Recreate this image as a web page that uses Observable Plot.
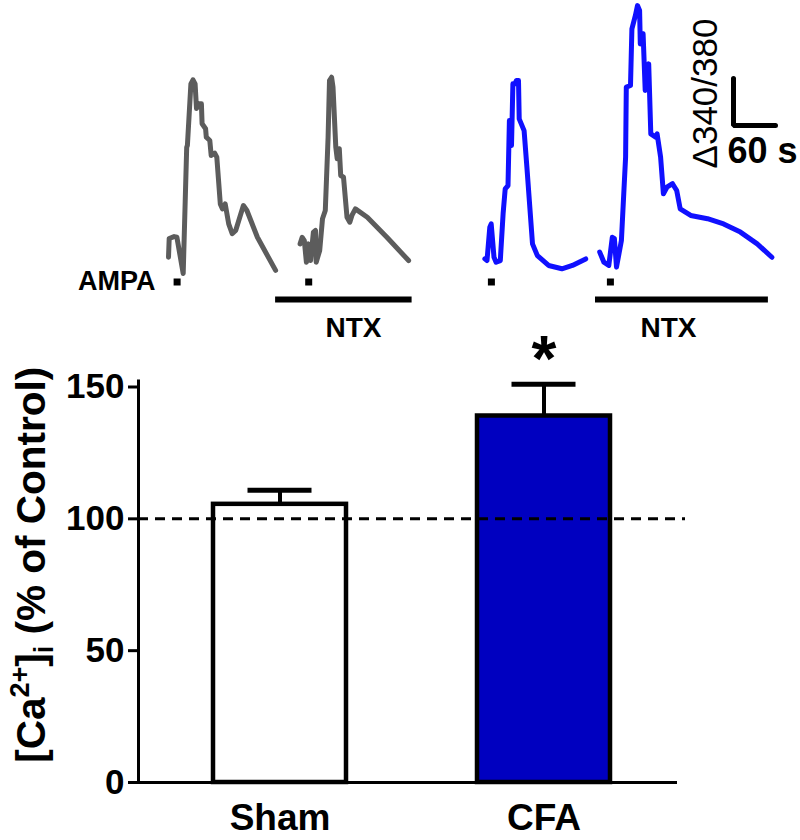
<!DOCTYPE html>
<html>
<head>
<meta charset="utf-8">
<script src="https://cdn.jsdelivr.net/npm/d3@7"></script>
<script src="https://cdn.jsdelivr.net/npm/@observablehq/plot@0.6"></script>
<style>
  html, body { margin: 0; padding: 0; background: #fff; }
  #wrap { position: relative; width: 800px; height: 840px; }
  #traces, #bars { position: absolute; left: 0; }
  #traces { top: 0; }
  #bars { top: 325px; }
  svg { display: block; overflow: visible; }
</style>
</head>
<body>
<div id="wrap">
<div id="bars"></div>
<div id="traces"></div>
</div>
<script>
// ---------------- DATA ----------------
// Calcium traces: [time (s), Δ340/380 ratio] (common timeline)
const shamControl = [[240,0.184],[241,0.264],[248,0.272],[252,0.269],[261,0.115],[266,0.652],[267,0.660],[272,0.922],[275,0.939],[278,0.922],[280,0.817],[283,0.837],[287,0.837],[288,0.752],[293,0.731],[294,0.695],[299,0.681],[301,0.617],[306,0.627],[309,0.610],[314,0.411],[317,0.390],[321,0.411],[326,0.326],[331,0.284],[336,0.298],[347,0.404],[352,0.383],[367,0.269],[393,0.128]];
const shamNTX = [[428,0.241],[431,0.269],[434,0.255],[437,0.163],[440,0.241],[443,0.170],[447,0.291],[450,0.298],[451,0.163],[456,0.213],[460,0.348],[464,0.383],[468,0.695],[470,0.936],[473,0.950],[475,0.908],[479,0.652],[481,0.603],[484,0.646],[486,0.532],[490,0.525],[495,0.354],[499,0.333],[502,0.362],[507,0.390],[524,0.354],[552,0.269],[583,0.170]];
const cfaControl = [[692,0.177],[695,0.170],[699,0.312],[701,0.326],[705,0.184],[708,0.163],[714,0.170],[718,0.369],[721,0.475],[725,0.489],[727,0.766],[730,0.660],[732,0.922],[735,0.922],[737,0.936],[740,0.936],[741,0.773],[748,0.723],[752,0.567],[760,0.241],[767,0.191],[783,0.149],[802,0.135],[817,0.149],[836,0.177]];
const cfaNTX = [[856,0.206],[862,0.163],[869,0.149],[874,0.269],[877,0.263],[880,0.142],[887,0.255],[893,0.610],[894,0.908],[900,0.915],[902,1.156],[907,1.213],[910,1.255],[913,1.234],[914,1.092],[918,1.135],[921,0.894],[926,1.007],[929,0.709],[936,0.695],[938,0.709],[943,0.610],[947,0.454],[952,0.482],[960,0.497],[966,0.468],[971,0.390],[986,0.362],[1010,0.348],[1033,0.326],[1057,0.291],[1081,0.241],[1102,0.184]];

// AMPA application start times (s) and duration (s)
const ampaStarts = [248, 436, 697, 867];
const ampaDuration = 10;
// NTX application periods (s)
const ntxPeriods = [[393, 588], [850, 1097]];
// Scale bar values
const scaleTime = 60;      // s
const scaleRatio = 0.2;    // Δ340/380

// Bar chart
const groups = ["Sham", "CFA"];
const means = [105.5, 139];
const sems = [5.3, 12];
const significance = ["", "*"];
const yTicks = [0, 50, 100, 150];
const controlLevel = 100;
const yLabel = "[Ca2+]i (% of Control)";

// ---------------- LAYOUT ----------------
const FONT = "'Liberation Sans', Arial, Helvetica, sans-serif";
const secPerPx = 60 / 42;
const ratioPerPx = 0.2 / 47;
const topH = 350;
const baselinePx = 300;

const T = (px) => px * secPerPx;
const R = (py) => (baselinePx - py) * ratioPerPx;

const traceMark = (data, color) => Plot.line(data, {
  x: d => d[0], y: d => d[1], stroke: color, strokeWidth: 5,
  strokeLinejoin: "round", strokeLinecap: "round"
});

const scaleOrigin = {t: T(733), r: R(125)};
const scaleBar = [
  {t: scaleOrigin.t, r: scaleOrigin.r + scaleRatio},
  {t: scaleOrigin.t, r: scaleOrigin.r},
  {t: scaleOrigin.t + scaleTime, r: scaleOrigin.r}
];
const ntxLabelX = [T(353), T(668)];

const topPlot = Plot.plot({
  width: 800, height: topH, margin: 0,
  style: {fontFamily: FONT, background: "transparent", color: "black"},
  x: {domain: [0, 800 * secPerPx], axis: null},
  y: {domain: [R(topH), R(0)], axis: null},
  marks: [
    traceMark(shamControl, "#5c5c5c"),
    traceMark(shamNTX, "#5c5c5c"),
    traceMark(cfaControl, "#1010ff"),
    traceMark(cfaNTX, "#1010ff"),
    Plot.rect(ampaStarts, {x1: d => d, x2: d => d + ampaDuration, y1: () => R(285.5), y2: () => R(278.5), fill: "black"}),
    Plot.ruleY(ntxPeriods, {x1: d => d[0], x2: d => d[1], y: () => R(299), stroke: "black", strokeWidth: 6}),
    Plot.line(scaleBar, {x: "t", y: "r", stroke: "black", strokeWidth: 5, strokeLinejoin: "miter"}),
    Plot.text(["AMPA"], {x: () => T(155), y: () => R(281), textAnchor: "end", fontSize: 27, fontWeight: "bold"}),
    Plot.text(ntxPeriods, {x: (d, i) => ntxLabelX[i], y: () => R(328), text: () => "NTX", fontSize: 28, fontWeight: "bold"}),
    Plot.text(["Δ340/380"], {x: () => T(705), y: () => R(93), rotate: -90, fontSize: 35}),
    Plot.text([scaleTime + " s"], {x: () => T(727), y: () => R(151), textAnchor: "start", fontSize: 36, fontWeight: "bold"})
  ]
});
document.getElementById("traces").appendChild(topPlot);

const barData = groups.map((g, i) => ({group: g, mean: means[i], sem: sems[i], sig: significance[i]}));

const barPlot = Plot.plot({
  width: 800, height: 515,
  marginTop: 61.5, marginBottom: 58, marginLeft: 138, marginRight: 125,
  style: {fontFamily: FONT, fontWeight: "bold", background: "transparent", color: "black"},
  x: {domain: groups, paddingInner: 0.496, paddingOuter: 0.265, align: 0.536},
  y: {domain: [0, 150]},
  color: {domain: groups, range: ["#ffffff", "#0000c0"]},
  marks: [
    Plot.barY(barData, {x: "group", y: "mean", fill: "group", stroke: "black", strokeWidth: 4.5}),
    Plot.ruleX(barData, {x: "group", y1: "mean", y2: d => d.mean + d.sem, stroke: "black", strokeWidth: 4}),
    Plot.tickY(barData, {x: "group", y: d => d.mean + d.sem, stroke: "black", strokeWidth: 5, insetLeft: 34.5, insetRight: 34.5}),
    Plot.ruleY([controlLevel], {stroke: "black", strokeWidth: 3, strokeDasharray: "10,7", insetRight: -10}),
    Plot.frame({anchor: "left", stroke: "black", strokeWidth: 3, insetTop: -6}),
    Plot.frame({anchor: "bottom", stroke: "black", strokeWidth: 3}),
    Plot.axisY({ticks: yTicks, tickSize: 10, tickPadding: 4, fontSize: 35, strokeWidth: 3, label: null}),
    Plot.axisX({tickSize: 0, tickPadding: 21, fontSize: 37, label: null}),
    Plot.text(barData.filter(d => d.sig), {x: "group", y: d => d.mean + d.sem, text: "sig", fontSize: 64, dy: -24}),
    Plot.text([yLabel], {frameAnchor: "left", textAnchor: "middle", rotate: -90, dx: -106, dy: -20, fontSize: 40.5})
  ]
});
document.getElementById("bars").appendChild(barPlot);

// Rich formatting (superscript / subscript) for the y-axis title
barPlot.querySelectorAll("text").forEach(el => {
  if (el.textContent === yLabel) {
    while (el.firstChild) el.removeChild(el.firstChild);
    const ns = "http://www.w3.org/2000/svg";
    const add = (txt, opts = {}) => {
      const t = document.createElementNS(ns, "tspan");
      t.textContent = txt;
      if (opts.size) t.setAttribute("font-size", opts.size);
      if (opts.dy) t.setAttribute("dy", opts.dy);
      el.appendChild(t);
    };
    add("[Ca");
    add("2+", {size: 27, dy: -16});
    add("]", {dy: 16});
    add("i", {size: 27, dy: 8});
    add(" (% of Control)", {dy: -8});
  }
});
</script>
</body>
</html>
